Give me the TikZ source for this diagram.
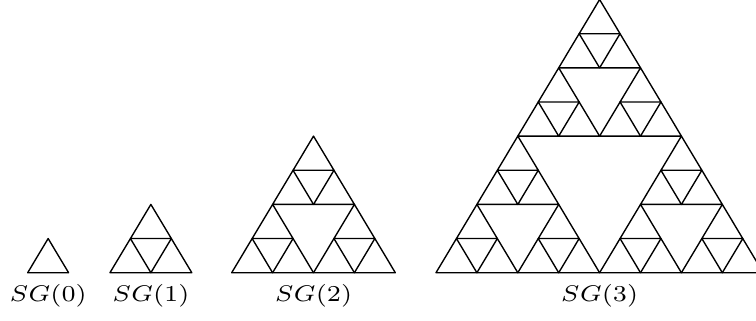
\documentclass[tikz,border=0pt]{standalone}
\usepackage{amsmath}
\usepackage{tikz}
\usetikzlibrary{calc}

\newcommand{\gasket}[4]{%
  \ifnum#1=0
    \draw[sgline] (#2,#3) -- ++(#4,0) -- ++(-#4/2,#4) -- cycle;
  \else
    \begingroup
      \pgfmathtruncatemacro\gdepth{#1-1}%
      \pgfmathsetmacro\gw{#4/2}%
      \pgfmathsetmacro\gxr{#2+\gw}%
      \pgfmathsetmacro\gxt{#2+\gw/2}%
      \pgfmathsetmacro\gyt{#3+\gw}%
      \edef\gnext{%
        \noexpand\gasket{\gdepth}{#2}{#3}{\gw}%
        \noexpand\gasket{\gdepth}{\gxr}{#3}{\gw}%
        \noexpand\gasket{\gdepth}{\gxt}{\gyt}{\gw}}%
      \gnext
    \endgroup
  \fi}

\begin{document}
\begin{tikzpicture}[x=0.575cm,y=0.48cm,
    sgline/.style={line width=0.55pt,line join=round},
    sglabel/.style={anchor=base,font=\scriptsize,xscale=1.42,yscale=1.3}]
  \useasboundingbox (0,0) rectangle (18.484,9.373);
    \gasket{0}{0.677}{1.386}{1}
    \gasket{1}{2.689}{1.386}{2}
    \gasket{2}{5.665}{1.386}{4}
    \gasket{3}{10.66}{1.386}{8}
    \node[sglabel] (sg0) at (1.177,0.53) {$SG(0)$};
    \node[sglabel] (sg1) at (3.689,0.53) {$SG(1)$};
    \node[sglabel] (sg2) at (7.665,0.53) {$SG(2)$};
    \node[sglabel] (sg3) at (14.66,0.53) {$SG(3)$};
  \end{tikzpicture}
\end{document}
